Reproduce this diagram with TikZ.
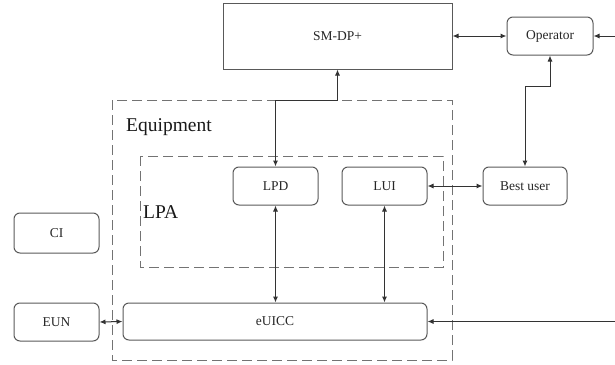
\documentclass[tikz,border=0pt]{standalone}
\usepackage{fontspec}
\setmainfont{Liberation Serif}
\usepackage{xcolor}
\usetikzlibrary{positioning,arrows.meta}
\tikzset{
  blk/.style={draw=black!65,line width=1pt,rounded corners=6pt,align=center,
              inner sep=0pt,font=\fontsize{13.5}{15}\selectfont,text=black!85},
  sqblk/.style={blk,rounded corners=0pt},
  grp/.style={draw=black!55,line width=1pt,dash pattern=on 10pt off 5pt},
  grplbl/.style={anchor=west,inner sep=0pt,font=\fontsize{19.5}{22}\selectfont,text=black!90},
  sig/.style={-{Latex[length=6pt,width=5pt]},draw=black!80,line width=1pt},
  dsig/.style={{Latex[length=6pt,width=5pt]}-{Latex[length=6pt,width=5pt]},draw=black!80,line width=1pt},
}

\begin{document}
\begin{tikzpicture}[x=1pt,y=-1pt]
  \useasboundingbox (0,0) rectangle (615,364);
  % --- dashed groups ---
  \draw[grp] (112,100) rectangle (452,360);
  \node[grplbl] (equiplbl) at (126,127) {Equipment};
  \draw[grp] (140,156) rectangle (443,267);
  \node[grplbl] (lpalbl) at (143,212) {LPA};
  % --- blocks ---
  \node[sqblk,minimum width=229pt,minimum height=66pt] (smdp) at (337.5,36) {SM-DP+};
  \node[blk,minimum width=86pt,minimum height=38pt] (op) at (550,36) {Operator};
  \node[blk,minimum width=85pt,minimum height=38pt] (lpd) at (275.5,186) {LPD};
  \node[blk,minimum width=85pt,minimum height=38pt] (lui) at (384.5,186) {LUI};
  \node[blk,minimum width=84pt,minimum height=38pt] (best) at (525,186) {Best user};
  \node[blk,minimum width=85pt,minimum height=40pt] (ci) at (56.5,233) {CI};
  \node[blk,minimum width=85pt,minimum height=38pt] (eun) at (56.5,322) {EUN};
  \node[blk,minimum width=304pt,minimum height=37pt] (euicc) at (275,321.5) {eUICC};
  % free ends at the right border
  \coordinate (inop) at (615,36);
  \coordinate (ineu) at (615,321.5);
  % --- connectors ---
  \draw[dsig] (smdp.east) -- (op.west);
  \draw[sig] (inop) -- (op.east);
  \draw[dsig] (smdp.south) -- ++(0,31) -| (lpd.north);
  \draw[dsig] (op.south) -- ++(0,31) -| (best.north);
  \draw[dsig] (lui.east) -- (best.west);
  \draw[dsig] (lpd.south) -- (lpd.south |- euicc.north);
  \draw[dsig] (lui.south) -- (lui.south |- euicc.north);
  \draw[dsig] (eun.east) -- (euicc.west);
  \draw[sig] (ineu) -- (euicc.east);
\end{tikzpicture}
\end{document}
